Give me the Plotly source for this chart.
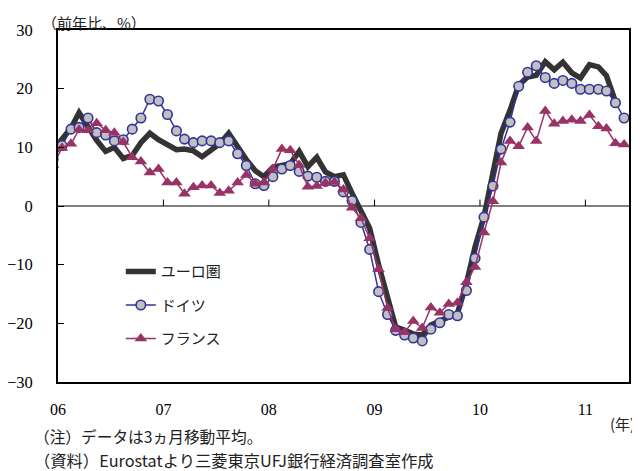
import plotly.graph_objects as go
import pandas as pd

# Monthly data, Dec 2005 .. May 2011 (3-month moving average, % y/y)
start_month = "2005-12-01"

euro = [9.5, 11.5, 13.3, 15.9, 13.5, 11.2, 9.3, 10.0, 8.1, 8.6, 10.8, 12.4, 11.3,
        10.4, 9.6, 9.7, 9.4, 8.4, 9.4, 10.6, 12.4, 10.0, 7.9, 6.0, 5.0,
        6.6, 7.0, 7.2, 9.3, 6.7, 8.3, 5.8, 5.0, 5.3, 2.2, -0.8, -3.8,
        -10.0, -16.0, -20.6, -21.2, -21.8, -22.0, -20.3, -19.6, -19.0, -18.3, -13.2, -7.0,
        -1.8, 6.2, 12.4, 16.3, 20.6, 22.0, 22.3, 24.6, 23.2, 24.5, 22.7, 21.8,
        24.1, 23.7, 22.2, 17.8]

germany = [8.0, 10.3, 13.1, 13.4, 15.0, 12.5, 12.1, 11.1, 11.3, 13.1, 15.0, 18.2, 17.9,
           15.6, 12.8, 11.4, 10.8, 11.1, 11.1, 10.8, 11.1, 8.9, 6.9, 3.8, 3.5,
           5.0, 6.3, 6.9, 5.9, 5.1, 4.9, 4.2, 4.2, 2.4, 0.9, -2.8, -7.4,
           -14.6, -18.5, -21.2, -22.0, -22.5, -23.0, -21.0, -19.9, -18.5, -18.7, -14.4, -8.9,
           -1.9, 3.4, 9.7, 14.3, 20.4, 22.8, 23.9, 21.9, 20.9, 21.4, 20.9, 19.9,
           19.9, 19.9, 19.6, 17.6, 15.0]

france = [7.0, 9.9, 10.6, 13.0, 12.9, 14.1, 12.9, 12.5, 10.9, 8.3, 7.6, 5.7, 6.3,
          4.0, 4.0, 2.1, 3.2, 3.5, 3.5, 2.2, 2.6, 4.0, 5.3, 3.8, 4.0,
          6.3, 9.7, 9.5, 7.0, 3.3, 3.4, 3.9, 4.1, 2.8, -0.3, -2.1, -5.5,
          -10.8, -17.4, -21.0, -21.5, -19.6, -20.8, -17.3, -18.2, -16.7, -16.5, -13.0, -10.4,
          -4.5, 0.8, 7.4, 11.1, 10.2, 13.4, 11.1, 16.2, 14.0, 14.5, 14.7, 14.5,
          15.5, 13.6, 13.2, 10.7, 10.5]

series_names = ["ユーロ圏", "ドイツ", "フランス"]
year_ticks = ["2006-01-01", "2007-01-01", "2008-01-01", "2009-01-01", "2010-01-01", "2011-01-01"]
y_ticks = [-30, -20, -10, 0, 10, 20, 30]

months = pd.date_range(start_month, periods=len(germany), freq="MS") + pd.Timedelta(days=14)

JP = "Noto Sans CJK JP"
SERIF = "Liberation Serif"

fig = go.Figure()
fig.add_trace(go.Scatter(
    x=months[:len(euro)], y=euro, name=series_names[0], mode="lines",
    line=dict(color="#333333", width=5.5), legendgroup="a"))
fig.add_trace(go.Scatter(
    x=months, y=germany, name=series_names[1], mode="lines+markers",
    line=dict(color="#333399", width=1.5),
    marker=dict(symbol="circle", size=9.5, color="#C0C0C0", line=dict(color="#333399", width=1.6)),
    legendgroup="b"))
fig.add_trace(go.Scatter(
    x=months, y=france, name=series_names[2], mode="lines+markers",
    line=dict(color="#993366", width=1.5),
    marker=dict(symbol="triangle-up", size=11, color="#993366"),
    legendgroup="c"))

shapes = []
for t in year_ticks[1:]:
    shapes.append(dict(type="line", xref="x", yref="y", x0=t, x1=t, y0=0, y1=1.1,
                       line=dict(color="black", width=1)))

fig.update_layout(
    width=632, height=463,
    margin=dict(l=50, r=11, t=22, b=89, autoexpand=False),
    paper_bgcolor="white", plot_bgcolor="white",
    showlegend=True,
    legend=dict(x=0.11, y=0.36, xanchor="left", yanchor="top",
                font=dict(family=JP, size=15, color="#222222"),
                bgcolor="rgba(0,0,0,0)", tracegroupgap=11),
    shapes=shapes,
    xaxis=dict(type="date", range=["2006-01-01", "2011-06-01"],
               tickvals=year_ticks, tickformat="%y", ticks="",
               showgrid=False, zeroline=False, automargin=False,
               showline=True, linecolor="black", linewidth=2, mirror=True,
               tickfont=dict(family=SERIF, size=16, color="black"),
               ticklabelstandoff=12),
    yaxis=dict(range=[-30, 30], tickvals=y_ticks, ticks="inside", ticklen=6,
               tickcolor="black", showgrid=False, automargin=False,
               zeroline=True, zerolinecolor="#808080", zerolinewidth=1.5,
               showline=True, linecolor="black", linewidth=2, mirror=True,
               tickfont=dict(family=SERIF, size=16.5, color="black"),
               ticklabelstandoff=20),
    annotations=[
        dict(text="（前年比、%）", xref="paper", yref="paper", x=-0.0315, y=1.058,
             xanchor="left", yanchor="top", showarrow=False,
             font=dict(family=JP, size=15, color="#222222")),
        dict(text="(年)", xref="paper", yref="paper", x=1.014, y=-0.1165,
             xanchor="right", yanchor="middle", showarrow=False,
             font=dict(family=JP, size=15, color="#222222")),
        dict(text="（注）データは3ヵ月移動平均。", xref="paper", yref="paper", x=-0.0455, y=-0.156,
             xanchor="left", yanchor="middle", showarrow=False,
             font=dict(family=JP, size=15.7, color="#222222")),
        dict(text="（資料）Eurostatより三菱東京UFJ銀行経済調査室作成", xref="paper", yref="paper",
             x=-0.0455, y=-0.2216, xanchor="left", yanchor="middle", showarrow=False,
             font=dict(family=JP, size=16.3, color="#222222")),
    ],
)

fig.write_html("out.html")
